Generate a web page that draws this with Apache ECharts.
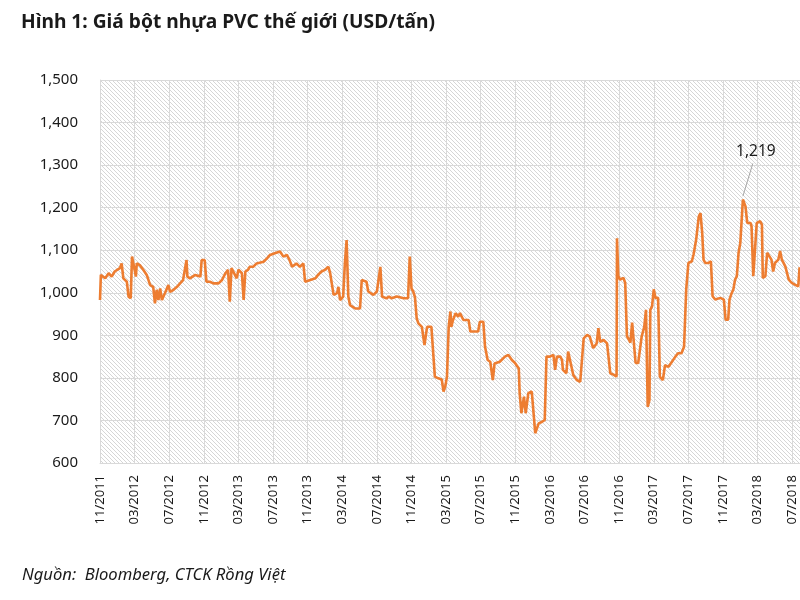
<!DOCTYPE html>
<html><head><meta charset="utf-8">
<script src="https://cdn.jsdelivr.net/npm/echarts/dist/echarts.min.js"></script>
<style>html,body{margin:0;padding:0;background:#fff}#c{width:800px;height:600px}</style>
</head><body><div id="c"></div>
<script>
// x position of each reading, in months counted from 11/2011
const months = [
 0.0,0.1,0.6,1.0,1.35,1.7,2.3,2.5,2.7,3.1,3.3,3.55,3.7,3.9,4.15,4.25,4.6,5.0,5.4,5.8,
 6.15,6.35,6.55,6.75,6.95,7.15,7.5,7.9,8.1,8.5,8.9,9.25,9.6,10.0,10.1,10.4,11.0,11.6,11.75,12.1,
 12.3,12.7,13.1,13.7,14.1,14.5,14.8,15.0,15.2,15.4,15.8,16.0,16.4,16.6,16.8,17.1,17.3,17.7,18.1,18.9,
 19.3,19.65,20.2,20.8,21.2,21.6,21.9,22.2,22.7,23.1,23.5,23.7,24.3,24.9,25.2,25.6,26.0,26.4,26.6,27.0,
 27.4,27.55,27.75,28.1,28.3,28.5,28.7,28.9,29.5,30.05,30.25,30.8,31.0,31.6,32.0,32.4,32.6,33.1,33.4,33.7,
 34.3,35.1,35.6,35.8,36.0,36.2,36.4,36.6,36.8,37.2,37.5,37.6,37.8,38.3,38.5,38.7,39.1,39.5,39.7,39.9,
 40.1,40.3,40.5,40.6,40.8,41.1,41.4,41.6,42.0,42.6,42.8,43.4,43.7,43.9,44.3,44.5,44.8,45.1,45.4,45.6,
 46.2,46.8,47.2,47.6,48.0,48.4,48.5,48.7,49.0,49.2,49.5,49.9,50.1,50.3,50.4,50.7,51.1,51.4,51.6,52.0,
 52.4,52.6,52.8,53.2,53.4,53.5,53.9,54.1,54.3,54.7,55.1,55.5,55.7,55.9,56.3,56.6,57.0,57.4,57.6,57.8,
 58.2,58.6,58.97,59.4,59.7,59.75,59.9,60.1,60.5,60.7,60.9,61.3,61.5,61.7,61.9,62.2,62.4,62.6,62.9,63.1,
 63.3,63.5,63.6,63.8,64.0,64.2,64.5,64.7,65.05,65.3,65.7,66.1,66.5,66.8,67.2,67.5,67.75,68.0,68.4,68.6,
 68.9,69.2,69.4,69.6,69.75,69.95,70.3,70.6,70.8,71.1,71.7,72.1,72.3,72.6,72.75,73.0,73.2,73.4,73.6,73.8,
 74.0,74.3,74.45,74.6,74.8,75.2,75.3,75.5,75.7,75.9,76.3,76.5,76.6,76.9,77.1,77.3,77.6,77.8,78.0,78.4,
 78.6,78.8,79.2,79.6,79.95,80.3,80.7,80.85
];
// PVC price, USD/tonne
const prices = [
 983,1042,1034,1046,1038,1050,1058,1069,1034,1026,991,987,1085,1081,1038,1069,1065,1054,1042,1018,
 1014,975,1007,983,1010,983,999,1018,1002,1007,1014,1022,1030,1077,1038,1034,1042,1038,1077,1077,
 1026,1026,1022,1022,1030,1046,1054,979,1058,1061,1034,1054,1046,983,1050,1054,1061,1061,1069,1073,
 1081,1089,1093,1097,1085,1089,1077,1061,1069,1061,1069,1026,1030,1034,1042,1050,1054,1061,1046,995,
 999,1014,983,991,1069,1124,991,971,963,963,1030,1026,1003,995,1003,1061,991,987,991,987,
 991,987,987,1085,1010,1003,990,940,928,920,877,873,920,920,920,803,799,796,768,780,
 803,920,956,920,936,952,944,952,936,936,909,909,909,932,932,873,842,838,795,834,
 838,850,854,842,834,822,764,717,756,717,764,768,764,670,666,693,697,701,850,850,
 854,819,850,850,842,819,811,862,858,807,795,791,842,893,901,897,870,881,917,885,
 889,881,811,807,803,1128,1039,1031,1035,1023,898,883,930,934,835,835,831,897,920,960,
 732,748,960,968,1008,988,988,803,795,830,826,838,850,858,858,873,1008,1070,1074,1090,
 1125,1179,1187,1140,1078,1070,1070,1074,992,984,988,984,937,937,984,999,1008,1031,1039,1094,
 1117,1219,1215,1203,1164,1164,1156,1039,1039,1164,1168,1160,1035,1039,1094,1098,1078,1050,1070,1078,
 1098,1078,1062,1031,1023,1019,1015,1060
];
const xTickLabels = ['11/2011','03/2012','07/2012','11/2012','03/2013','07/2013','11/2013','03/2014',
 '07/2014','11/2014','03/2015','07/2015','11/2015','03/2016','07/2016','11/2016','03/2017','07/2017',
 '11/2017','03/2018','07/2018'];
const yTicks = [600,700,800,900,1000,1100,1200,1300,1400,1500];
const peakMonth = 74.3, peakValue = 1219;

const FONT = '"Noto Sans", sans-serif';
const pc = document.createElement('canvas'); pc.width = 4; pc.height = 4;
const ctx = pc.getContext('2d');
ctx.strokeStyle = '#d6d6d6'; ctx.lineWidth = 1;
ctx.beginPath();
for (const k of [-4, 0, 4]) { ctx.moveTo(k, 0); ctx.lineTo(k + 4, 4); }
ctx.stroke();

const chart = echarts.init(document.getElementById('c'), null, {renderer: 'canvas'});
chart.setOption({
  animation: false,
  title: [
    {text: 'Hình 1: Giá bột nhựa PVC thế giới (USD/tấn)', left: 16, top: 8,
     textStyle: {fontFamily: FONT, fontWeight: 'bold', fontSize: 19.2, color: '#1a1a1a'}},
    {text: 'Nguồn:  Bloomberg, CTCK Rồng Việt', left: 17, top: 562,
     textStyle: {fontFamily: FONT, fontStyle: 'italic', fontWeight: 'normal', fontSize: 16.6, color: '#1a1a1a'}}
  ],
  grid: {left: 100, top: 80, right: 0, bottom: 137, show: true, borderWidth: 0,
         backgroundColor: {image: pc, repeat: 'repeat'}},
  xAxis: {
    type: 'value', min: 0, max: 80.9, interval: 4,
    axisLine: {show: true, lineStyle: {color: '#d9d9d9', width: 1}},
    axisTick: {show: false},
    splitLine: {show: true, lineStyle: {color: '#d9d9d9', width: 1}},
    axisLabel: {rotate: 90, margin: 12, fontFamily: FONT, fontSize: 13, color: '#1a1a1a',
      showMaxLabel: false,
      formatter: v => (Math.abs(v % 4) < 1e-6 && xTickLabels[Math.round(v / 4)]) || ''}
  },
  yAxis: {
    type: 'value', min: yTicks[0], max: yTicks[yTicks.length - 1], interval: 100,
    axisLine: {show: true, lineStyle: {color: '#d9d9d9', width: 1}},
    axisTick: {show: false},
    splitLine: {show: true, lineStyle: {color: '#d9d9d9', width: 1}},
    axisLabel: {margin: 22, fontFamily: FONT, fontSize: 15, color: '#1a1a1a',
      formatter: v => v.toLocaleString('en-US')}
  },
  series: [{
    type: 'line',
    data: months.map((m, i) => [m, prices[i]]),
    showSymbol: false,
    lineStyle: {color: '#ED7D31', width: 2.6},
    itemStyle: {color: '#ED7D31'},
    emphasis: {disabled: true},
    markLine: {
      silent: true, symbol: ['none', 'none'], animation: false,
      lineStyle: {color: '#a6a6a6', width: 1, type: 'solid'},
      label: {show: false}, emphasis: {disabled: true},
      data: [[{coord: [peakMonth, peakValue + 8]}, {coord: [peakMonth + 1.15, peakValue + 85]}]]
    },
    markPoint: {
      silent: true, symbol: 'circle', symbolSize: 1, animation: false,
      itemStyle: {color: 'rgba(0,0,0,0)'},
      label: {show: true, position: 'inside', fontFamily: FONT, fontSize: 15.5, color: '#1a1a1a',
        formatter: () => peakValue.toLocaleString('en-US')},
      data: [{coord: [peakMonth + 1.5, peakValue + 113]}]
    }
  }]
});
</script>
</body></html>
